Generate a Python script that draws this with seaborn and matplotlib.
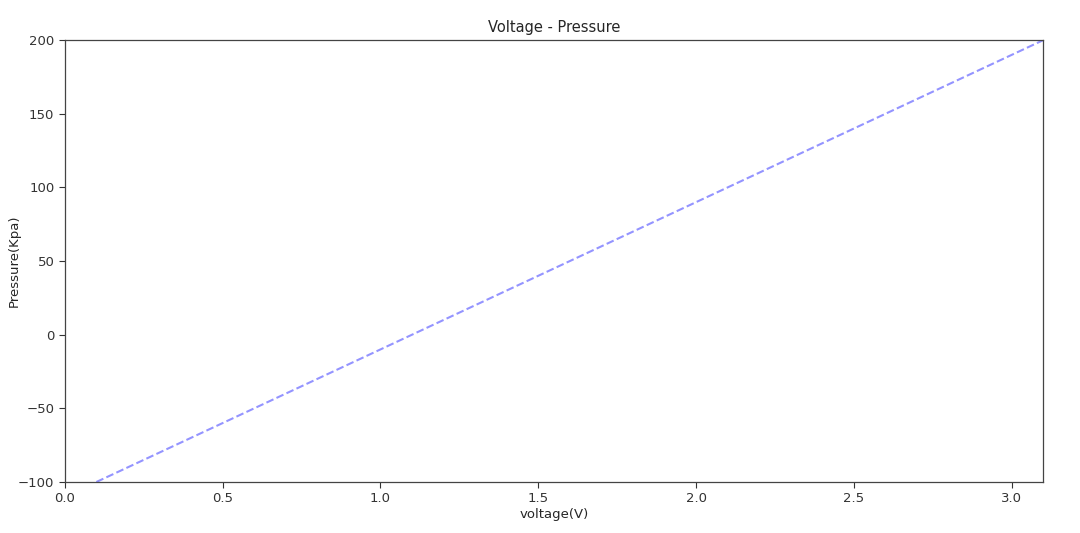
import matplotlib
matplotlib.use("Agg")
import matplotlib.pyplot as plt
import seaborn as sns
import pandas as pd

voltage = [0.1, 0.5, 1.0, 1.5, 2.0, 2.5, 3.1]
pressure = [-100, -60, -10, 40, 90, 140, 200]

sns.set_style("ticks")
plt.rcParams['font.family'] = ['DejaVu Sans']

df = pd.DataFrame({"voltage": voltage, "pressure": pressure})

fig = plt.figure(figsize=(10.8, 5.33), dpi=100)
ax = fig.add_axes([0.060, 0.0957, 0.906, 0.829])
sns.lineplot(data=df, x="voltage", y="pressure", ax=ax, color="b", alpha=0.42,
             linestyle="--", linewidth=1.5)
ax.set_xlim(0, 3.1)
ax.set_ylim(-100, 200)
ax.set_xticks([0.0, 0.5, 1.0, 1.5, 2.0, 2.5, 3.0])
ax.set_yticks([-100, -50, 0, 50, 100, 150, 200])
ax.tick_params(labelsize=9.5, colors="#333333", length=4)
for s in ax.spines.values():
    s.set_visible(True)
    s.set_color("#444444")
    s.set_linewidth(0.9)
ax.set_xlabel("voltage(V)", fontsize=9.5, labelpad=2)
ax.set_ylabel("Pressure(Kpa)", fontsize=9.5, labelpad=-2)
ax.set_title("Voltage - Pressure", fontsize=10.5, pad=6)
fig.savefig("out.png", dpi=100)
